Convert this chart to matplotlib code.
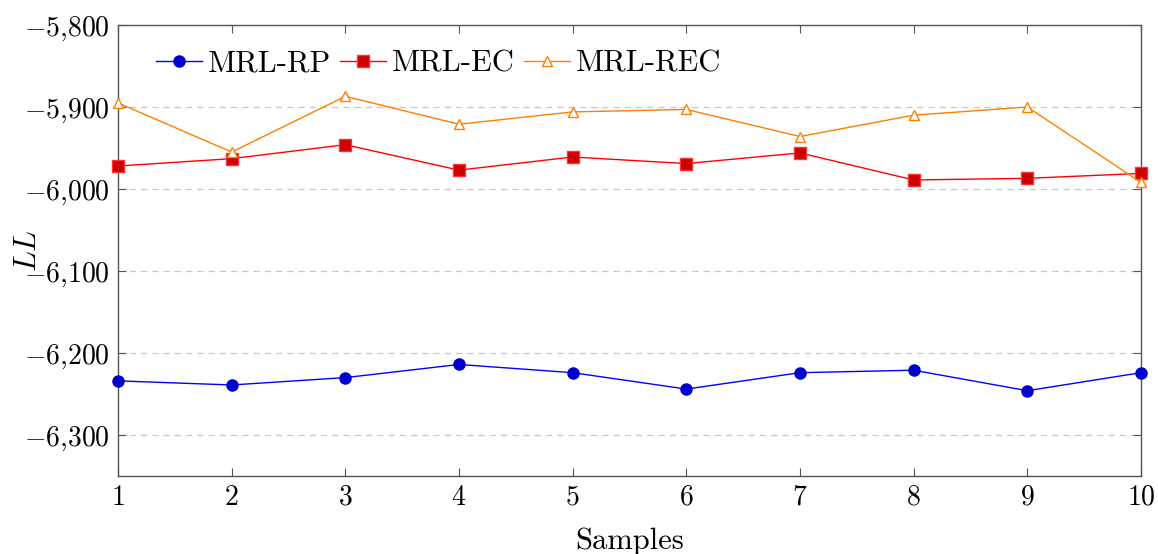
import matplotlib
matplotlib.use('Agg')
import matplotlib.pyplot as plt
from matplotlib.ticker import FuncFormatter, MultipleLocator

plt.rcParams['font.family'] = 'serif'
plt.rcParams['font.serif'] = ['cmr10']
plt.rcParams['mathtext.fontset'] = 'cm'
plt.rcParams['axes.unicode_minus'] = False

samples = [1, 2, 3, 4, 5, 6, 7, 8, 9, 10]
mrl_rp = [-6234, -6239, -6230, -6214, -6224, -6244, -6224, -6221, -6246, -6224]
mrl_ec = [-5972, -5963, -5946, -5977, -5961, -5969, -5956, -5989, -5987, -5981]
mrl_rec = [-5895, -5955, -5887, -5921, -5906, -5903, -5936, -5910, -5900, -5992]

fig = plt.figure(figsize=(11.58, 5.54), dpi=100)
ax = fig.add_axes([0.1019, 0.1408, 0.8834, 0.8141])

ax.plot(samples, mrl_rp, '-o', color='#0000ff', lw=1.0, markersize=8,
        markerfacecolor='#0000cc', markeredgecolor='#0000cc', label='MRL-RP', clip_on=False, zorder=3)
ax.plot(samples, mrl_ec, '-s', color='#ff0000', lw=1.0, markersize=8,
        markerfacecolor='#cc0000', markeredgecolor='#ff3333', label='MRL-EC', clip_on=False, zorder=3)
ax.plot(samples, mrl_rec, '-^', color='#ff8000', lw=1.0, markersize=7,
        markerfacecolor='white', markeredgecolor='#ff8000', markeredgewidth=1.0,
        label='MRL-REC', clip_on=False, zorder=3)

ax.set_xlim(1, 10)
ax.set_ylim(-6350, -5800)
ax.xaxis.set_major_locator(MultipleLocator(1))
ax.yaxis.set_major_locator(MultipleLocator(100))


def fmt(v, pos):
    s = '{:,}'.format(int(round(abs(v)))).replace(',', '{,}')
    return '$-' + s + '$' if v < 0 else '$' + s + '$'


ax.yaxis.set_major_formatter(FuncFormatter(fmt))
ax.xaxis.set_major_formatter(FuncFormatter(lambda v, p: '$%d$' % v))

ax.grid(axis='y', linestyle=(0, (5, 4)), color='#c8c8c8', lw=0.9)
ax.set_axisbelow(True)
for sp in ax.spines.values():
    sp.set_color('#555555')
    sp.set_linewidth(1.0)
ax.tick_params(direction='in', top=True, right=True, length=6, width=0.8,
               color='#555555', labelsize=20, pad=6)

ax.set_xlabel('Samples', fontsize=22)
ax.xaxis.set_label_coords(0.5, -0.115)
ax.set_ylabel('$LL$', fontsize=22)
ax.yaxis.set_label_coords(-0.074, 0.5)

leg = ax.legend(loc='upper left', ncol=3, frameon=False, fontsize=22,
                handlelength=1.5, handletextpad=0.2, columnspacing=0.3,
                bbox_to_anchor=(0.01, 1.005))

fig.savefig('out.png', dpi=100)
